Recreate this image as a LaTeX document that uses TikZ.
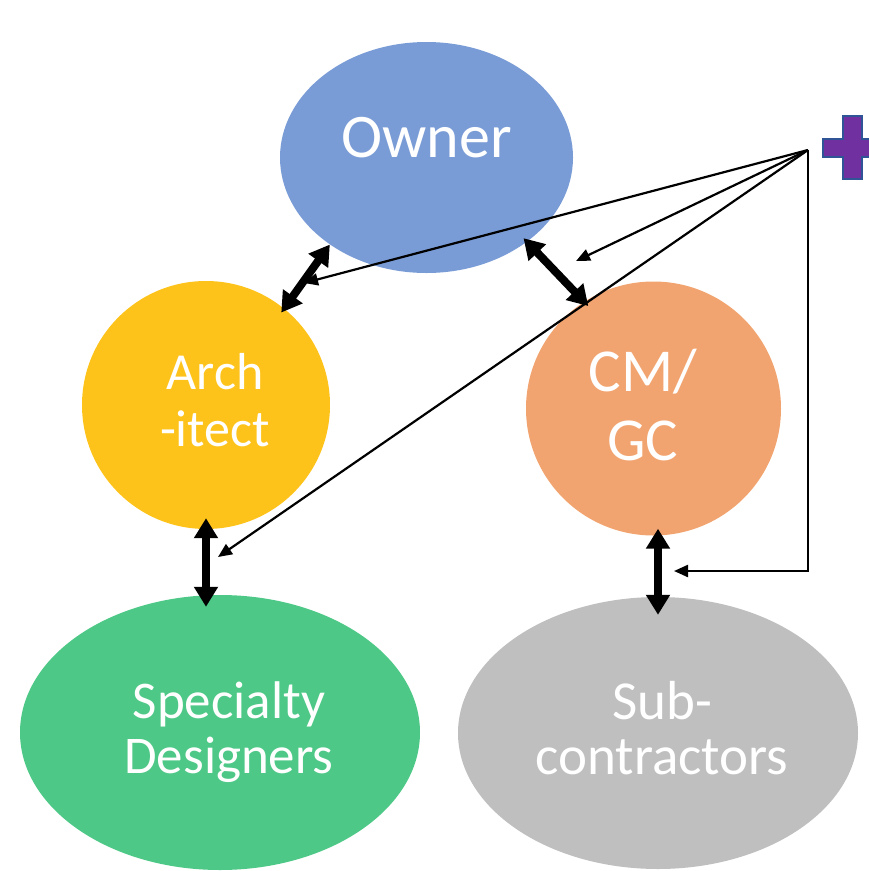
\documentclass[tikz,border=0pt]{standalone}
\usepackage{fontspec}
\setmainfont{Carlito}
\usetikzlibrary{shapes.geometric, arrows.meta, calc}
\definecolor{ownerBlue}{HTML}{7A9CD6}
\definecolor{archGold}{HTML}{FEC31B}
\definecolor{gcOrange}{HTML}{F2A470}
\definecolor{specGreen}{HTML}{4DC886}
\definecolor{subGrey}{HTML}{BFBFBF}
\definecolor{plusViolet}{HTML}{7030A0}
\definecolor{plusEdge}{HTML}{2F5597}
\tikzset{
  party/.style={ellipse, draw=none, inner sep=0pt},
  partytext/.style={text=white, align=center, inner sep=0pt},
}
\tikzset{
  duty/.style={{Triangle[length=20pt,width=23pt]}-{Triangle[length=20pt,width=23pt]}, line width=8pt},
  feed/.style={-{Triangle[length=14pt,width=12pt]}, line width=2.2pt},
}

\begin{document}
\begin{tikzpicture}[x=1pt, y=-1pt]
  \useasboundingbox (0,0) rectangle (869,871);
  % the five parties
  \node[party, fill=ownerBlue, minimum width=293pt, minimum height=231pt] (owner) at (426.5,157.5) {};
  \node[party, fill=archGold, minimum width=248pt, minimum height=248pt] (arch) at (206,405) {};
  \node[party, fill=gcOrange, minimum width=255pt, minimum height=254pt] (cm) at (653.5,408.5) {};
  \node[party, fill=specGreen, minimum width=400pt, minimum height=275pt] (spec) at (220,732.5) {};
  \node[party, fill=subGrey, minimum width=400pt, minimum height=272pt] (sub) at (658,733) {};
  \node[partytext, font=\fontsize{62}{68}\selectfont] (ownerlbl) at (426.5,137.5) {Owner};
  \node[partytext, font=\fontsize{52}{57}\selectfont] (archlbl) at (215,400.5) {Arch\\-itect};
  \node[partytext, font=\fontsize{61}{69}\selectfont] (cmlbl) at (643,405.5) {CM/\\GC};
  \node[partytext, font=\fontsize{53}{55}\selectfont] (speclbl) at (229,732) {Specialty\\Designers};
  \node[partytext, font=\fontsize{55}{55}\selectfont] (sublbl) at (662,728) {Sub-\\contractors};
  % plus icon and its feed lines
  \filldraw[fill=plusViolet, draw=plusEdge, line width=1.5pt]
    (843,116) -- (862,116) -- (862,139) -- (885,139) -- (885,157) -- (862,157)
    -- (862,179) -- (843,179) -- (843,157) -- (823,157) -- (823,139) -- (843,139) -- cycle;
  \coordinate (hub) at (808,150);
  \coordinate (archnote) at (304,283);
  \coordinate (gcnote) at (576,261);
  \coordinate (specnote) at (218,557);
  \coordinate (subnote) at (674,571);
  \draw[feed] (hub) -- (archnote);
  \draw[feed] (hub) -- (gcnote);
  \draw[feed] (hub) -- (specnote);
  \draw[feed] (hub) |- (subnote);
  % contract links
  \draw[duty, shorten >=-5pt] (owner.222) -- (arch.51);
  \draw[duty, shorten <=-5pt, shorten >=-6pt] (owner.320) -- (cm.123);
  \draw[duty] ([yshift=11pt]arch.south) -- ([yshift=-12pt]arch.south |- spec.north);
  \draw[duty] ([yshift=7pt]cm.south -| sub.north) -- ([yshift=-18pt]sub.north);
\end{tikzpicture}
\end{document}
